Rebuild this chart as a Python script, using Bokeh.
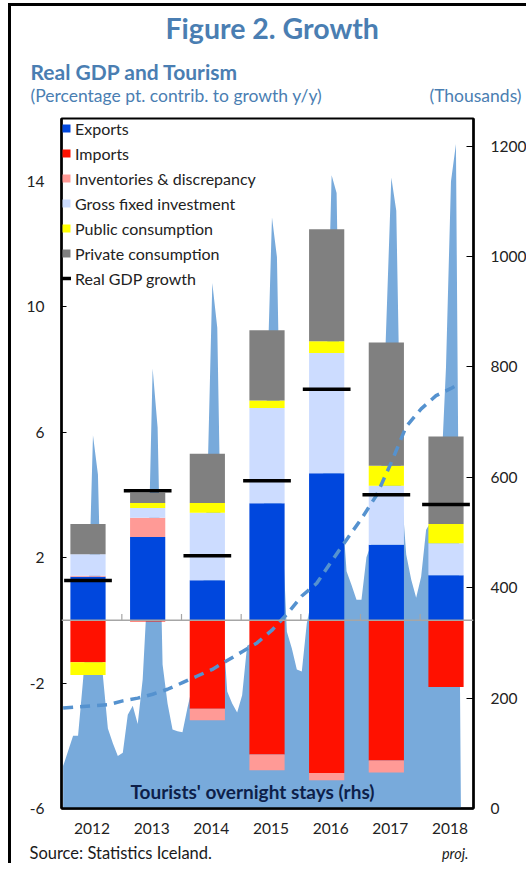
import numpy as np
import pandas as pd
from bokeh.plotting import figure
from bokeh.models import (Range1d, LinearAxis, FixedTicker, Span, Label, Legend,
                          LegendItem, Title)
from bokeh.embed import file_html
from bokeh.resources import INLINE

# ---------------- data ----------------
years = [2012, 2013, 2014, 2015, 2016, 2017, 2018]
exports = [1.39, 2.66, 1.28, 3.73, 4.69, 2.41, 1.44]
imports = [-1.34, -0.04, -2.82, -4.28, -4.87, -4.47, -2.13]
inventories = [0.03, 0.61, -0.37, -0.50, -0.23, -0.38, 0.0]
gfi = [0.69, 0.31, 2.15, 3.04, 3.83, 1.88, 1.02]
public = [-0.40, 0.16, 0.31, 0.24, 0.38, 0.64, 0.61]
private = [0.96, 0.33, 1.57, 2.24, 3.57, 3.93, 2.79]
gdp = [1.27, 4.13, 2.06, 4.45, 7.37, 4.00, 3.69]

# Tourists' overnight stays, thousands, monthly Jan 2012 - Sep 2018
tourist_start = "2012-01"
tourists = [
    77, 104, 132, 132, 232, 347, 676, 605, 240, 145, 118, 95,
    101, 170, 186, 153, 234, 404, 797, 690, 261, 190, 143, 140,
    138, 182, 222, 270, 360, 583, 952, 871, 350, 212, 190, 174,
    205, 295, 300, 330, 420, 759, 1071, 999, 520, 320, 290, 252,
    248, 335, 380, 420, 520, 800, 1147, 1115, 560, 430, 405, 378,
    378, 455, 480, 520, 620, 880, 1143, 1083, 583, 460, 415, 382,
    420, 505, 520, 540, 600, 800, 1136, 1204, 0,
]
trend_months = ["2012-01", "2012-04", "2012-07", "2012-10", "2013-01", "2013-04",
                "2013-07", "2013-10", "2014-01", "2014-04", "2014-07", "2014-10",
                "2015-01", "2015-04", "2015-07", "2015-10", "2016-01", "2016-04",
                "2016-07", "2016-10", "2017-01", "2017-04", "2017-07", "2017-10",
                "2018-01", "2018-04", "2018-07", "2018-08"]
trend_values = [182, 184, 186, 188, 195, 200, 207, 216, 228, 240, 252, 268,
                284, 300, 323, 352, 385, 408, 448, 487, 525, 567, 627, 692,
                724, 748, 761, 766]

left_ticks = [-6, -2, 2, 6, 10, 14]
right_ticks = [0, 200, 400, 600, 800, 1000, 1200]

series = [
    ("Exports", exports, "#0047DD"),
    ("Imports", imports, "#FF1100"),
    ("Inventories & discrepancy", inventories, "#FF9A96"),
    ("Gross fixed investment", gfi, "#CCDCFF"),
    ("Public consumption", public, "#FFFF00"),
    ("Private consumption", private, "#808080"),
]

title_text = "Figure 2. Growth"
subtitle_text = "Real GDP and Tourism"
units_left = "(Percentage pt. contrib. to growth y/y)"
units_right = "(Thousands)"
area_label = "Tourists' overnight stays (rhs)"
source_text = "Source: Statistics Iceland."
proj_text = "proj."

# ---------------- styling / geometry ----------------
FONT = "Lato"
BLUE_TXT = "#4A7EB2"
TXT = "#222222"
PX_PER_YEAR = 59.667
X_START = 2012 - 26.5 / PX_PER_YEAR
X_END = 2018 + 27.5 / PX_PER_YEAR
LAB_SHIFT = 4 / PX_PER_YEAR
BAR_W = 0.59
GDP_HALF = 0.40

# canvas placed at page (11, 6) by the CSS margins/borders below
CAN_W, CAN_H = 518, 860


def month_pos(dt):
    return dt.year + dt.month / 12.0 - 0.5


p = figure(width=CAN_W, height=CAN_H, output_backend="svg", toolbar_location=None,
           title=None, x_range=Range1d(X_START, X_END), y_range=Range1d(-6, 16),
           x_axis_type=None, min_border_left=50, min_border_right=56,
           min_border_top=112, min_border_bottom=58)
p.styles = {"margin-left": "8px", "margin-top": "3px",
            "border-left": "3px solid black", "border-top": "3px solid black"}
p.extra_y_ranges = {"rhs": Range1d(0, 1250)}
p.extra_x_ranges = {"lab": Range1d(X_START - LAB_SHIFT, X_END - LAB_SHIFT)}
p.ygrid.grid_line_color = None
p.outline_line_color = "black"
p.outline_line_width = 2

# tourist area (rhs)
tdates = pd.date_range(tourist_start, periods=len(tourists), freq="MS")
tx = [month_pos(d) for d in tdates]
p.varea(x=tx, y1=[0] * len(tx), y2=tourists, y_range_name="rhs",
        fill_color="#78AADB")

# stacked bars
pos = np.zeros(len(years))
neg = np.zeros(len(years))
renderers = {}
for name, vals, color in series:
    v = np.array(vals, dtype=float)
    bottom = np.where(v >= 0, pos, neg + v)
    top = np.where(v >= 0, pos + v, neg)
    pos = pos + np.clip(v, 0, None)
    neg = neg + np.clip(v, None, 0)
    renderers[name] = p.vbar(x=years, bottom=bottom, top=top, width=BAR_W,
                             fill_color=color, line_color=None)

# zero line and category separators
p.add_layout(Span(location=0, dimension="width", line_color="#A6A6A6",
                  line_width=1.5))
sep = [y + 0.5 for y in years[:-1]]
p.segment(x0=sep, x1=sep, y0=[0] * len(sep), y1=[0.2] * len(sep),
          x_range_name="lab", line_color="#A6A6A6", line_width=1.2)

# trend line (rhs)
trx = [month_pos(pd.Timestamp(m)) for m in trend_months]
p.line(trx, trend_values, y_range_name="rhs", line_color="#5592CF",
       line_width=3.5, line_dash="10 7")

# GDP growth markers
gdp_r = p.segment(x0=[y - GDP_HALF for y in years], x1=[y + GDP_HALF for y in years],
                  y0=gdp, y1=gdp, line_color="black", line_width=3.5)

# axes
ya = p.yaxis[0]
ya.ticker = FixedTicker(ticks=left_ticks)
ya.major_label_overrides = {t: str(t) for t in left_ticks}
ra = LinearAxis(y_range_name="rhs", ticker=FixedTicker(ticks=right_ticks))
p.add_layout(ra, "right")
xa = LinearAxis(x_range_name="lab", ticker=FixedTicker(ticks=years))
xa.major_label_overrides = {y: str(y) for y in years}
p.add_layout(xa, "below")

for ax, standoff in [(ya, 17), (ra, 17), (xa, 14)]:
    ax.axis_line_color = "black"
    ax.axis_line_width = 2.5
    ax.major_tick_out = 0
    ax.major_tick_in = 5
    ax.major_tick_line_color = "black"
    ax.major_tick_line_width = 1.2
    ax.minor_tick_line_color = None
    ax.major_label_text_font = FONT
    ax.major_label_text_font_size = "15.5px"
    ax.major_label_text_color = TXT
    ax.major_label_standoff = standoff
xa.major_tick_line_color = None
xa.major_tick_in = 0
ra.major_tick_in = 7

# legend
items = [LegendItem(label=name, renderers=[renderers[name]]) for name, _, _ in series]
items.append(LegendItem(label="Real GDP growth", renderers=[gdp_r]))
leg = Legend(items=items, location="top_left", margin=0, padding=6,
             glyph_width=10, glyph_height=10, label_height=20, spacing=5,
             label_standoff=4, label_text_font=FONT, label_text_font_size="16px",
             label_text_color=TXT, background_fill_alpha=0, border_line_color=None)
p.add_layout(leg)

p.add_layout(Label(x=191, y=17, x_units="screen", y_units="screen",
                   text=area_label, text_font=FONT, text_font_size="19px",
                   text_font_style="bold", text_color="#0D1F4A", text_align="center",
                   text_baseline="alphabetic"))


# ---------------- header / footer as titles ----------------
def add_title(side, text, size, standoff, align="left", offset=0, style="normal",
              color=BLUE_TXT):
    p.add_layout(Title(text=text, text_font=FONT, text_font_size=size,
                       text_font_style=style, text_color=color, align=align,
                       offset=offset, standoff=standoff, vertical_align="bottom"), side)


# above: first added is nearest the frame
add_title("above", " ", "16px", 3.0)
add_title("above", units_left, "17.5px", -23.0, "left", -31)
add_title("above", units_right, "17.5px", -23.0, "right", -48)
add_title("above", subtitle_text, "21px", 21.0, "left", -31, "bold")
add_title("above", title_text, "28.5px", 3.0, "left", 104, "bold")

# below (after the x axis)
add_title("below", " ", "16px", -5.4)
add_title("below", source_text, "16.5px", -21.8, "left", -32, color="#1A1A1A")
add_title("below", proj_text, "14.5px", -19.4, "right", 5, "italic", "#1A1A1A")

open("out.html", "w").write(file_html(p, INLINE))
